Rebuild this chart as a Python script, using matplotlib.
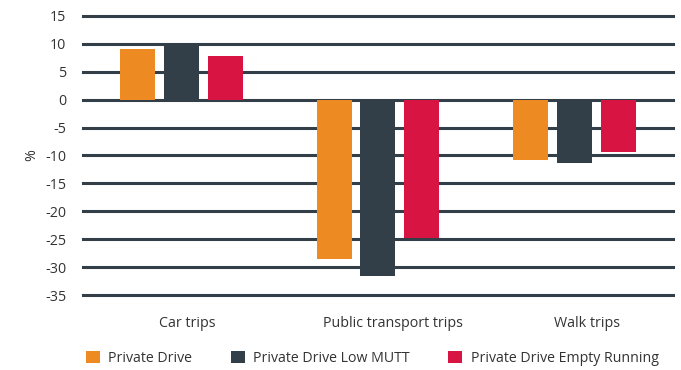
import numpy as np
import matplotlib.pyplot as plt
import matplotlib.transforms as mtransforms
from matplotlib.patches import Patch

categories = ["Car trips", "Public transport trips", "Walk trips"]
series_names = ["Private Drive", "Private Drive Low MUTT", "Private Drive Empty Running"]
private_drive = [9.0, -28.6, -10.8]
low_mutt = [10.0, -31.6, -11.3]
empty_running = [7.8, -24.8, -9.3]
y_ticks = [15, 10, 5, 0, -5, -10, -15, -20, -25, -30, -35]

colors = ["#EE8A22", "#323E48", "#D81443"]
grid_color = "#333F48"
text_color = "#333333"

plt.rcParams["font.family"] = ["Open Sans", "DejaVu Sans"]

fig = plt.figure(figsize=(6.81, 3.70), dpi=100)
ax = fig.add_axes([0.1219, 0.2027, 0.8661, 0.7541])

x = np.arange(len(categories))
width = 0.178
step = 0.223
for i, (vals, color) in enumerate(zip([private_drive, low_mutt, empty_running], colors)):
    ax.bar(x + (i - 1) * step, vals, width, color=color, zorder=3)

for t in y_ticks:
    ax.axhline(t, color=grid_color, lw=2.2, zorder=1, clip_on=False)

ax.set_xlim(-0.5, 2.5)
ax.set_ylim(-35, 15)
ax.set_yticks(y_ticks)
ax.set_yticklabels([str(t) for t in y_ticks])
ax.set_xticks(x)
ax.set_xticklabels(categories)
ax.tick_params(axis="both", length=0, labelsize=10.3, colors=text_color)
ax.tick_params(axis="y", pad=12)
ax.tick_params(axis="x", pad=15)
for s in ax.spines.values():
    s.set_visible(False)

# category labels sit a little right of the bar groups
for lbl, dx in zip(ax.get_xticklabels(), [6, 15, 12]):
    lbl.set_transform(lbl.get_transform() + mtransforms.ScaledTranslation(dx / 100, 0, fig.dpi_scale_trans))

ax.set_ylabel("%", fontsize=10.3, color=text_color, labelpad=4)

handles = [Patch(facecolor=c, edgecolor="none") for c in colors]
fig.legend(handles, series_names, loc="center left", bbox_to_anchor=(0.107, 0.032),
           ncol=3, frameon=False, fontsize=10.2, handlelength=1.0, handleheight=1.0,
           handletextpad=0.6, columnspacing=2.7, labelcolor=text_color)

fig.savefig("out.png", dpi=100)
